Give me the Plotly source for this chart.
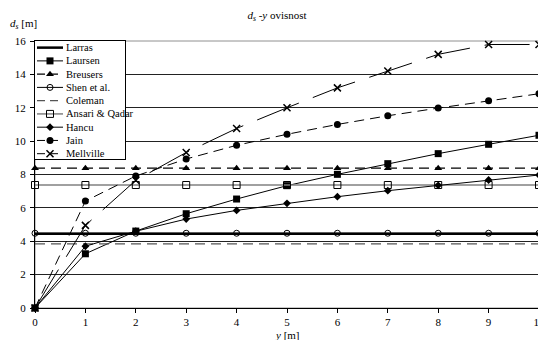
import plotly.graph_objects as go

x_vals = [0, 1, 2, 3, 4, 5, 6, 7, 8, 9, 10]

larras = [4.45] * 11
laursen = [0, 3.25, 4.61, 5.65, 6.53, 7.33, 8.01, 8.65, 9.25, 9.81, 10.35]
breusers = [8.38] * 11
shen = [4.48] * 11
coleman = [3.84] * 11
ansari = [7.37] * 11
hancu = [0, 3.70, 4.60, 5.33, 5.85, 6.27, 6.67, 7.03, 7.35, 7.67, 7.97]
jain = [0, 6.41, 7.91, 8.93, 9.75, 10.41, 11.00, 11.52, 11.98, 12.42, 12.84]
mellville = [0, 4.95, 7.65, 9.32, 10.76, 12.0, 13.19, 14.2, 15.2, 15.79, 15.79]

series_names = ["Larras", "Laursen", "Breusers", "Shen et al.", "Coleman",
                "Ansari & Qadar", "Hancu", "Jain", "Mellville"]
series_values = [larras, laursen, breusers, shen, coleman, ansari, hancu, jain, mellville]

styles = [
    (dict(color="black", width=2.5), None),
    (dict(color="black", width=1), dict(symbol="square", size=7, color="black")),
    (dict(color="black", width=1.2, dash="10px,6px"), dict(symbol="triangle-up", size=7, color="black")),
    (dict(color="black", width=1), dict(symbol="circle-open", size=6, color="black", line=dict(width=1))),
    (dict(color="#555555", width=1.2, dash="10px,6px"), None),
    (dict(color="#808080", width=1.5), dict(symbol="square-open", size=7, color="black", line=dict(width=1))),
    (dict(color="black", width=1), dict(symbol="diamond", size=6, color="black")),
    (dict(color="black", width=1, dash="10px,6px"), dict(symbol="circle", size=7, color="black")),
    (dict(color="black", width=1, dash="45px,15px"), dict(symbol="x-thin-open", size=7, color="black", line=dict(width=1.5))),
]

FONT = "Times New Roman, Liberation Serif, Times, DejaVu Serif, serif"

# page has an 8px body margin; figure is sized to fill the rest of the 546x340 window
W, H = 538, 332
PL, PR, PT, PB = 27, 7, 33, 32
PW, PH = W - PL - PR, H - PT - PB  # 504 x 267

fig = go.Figure()
for name, yv, (line, marker) in zip(series_names, series_values, styles):
    kw = dict(x=x_vals, y=yv, name=name, mode="lines+markers" if marker else "lines",
              line=line, showlegend=False, xaxis="x", yaxis="y", cliponaxis=False)
    if marker:
        kw["marker"] = marker
    fig.add_trace(go.Scatter(**kw))

# Legend box drawn as an inset subplot (row index i on its y axis)
legend_annotations = []
for i, (name, (line, marker)) in enumerate(zip(series_names, styles)):
    sample_line = dict(line)
    if "dash" in sample_line:
        sample_line["dash"] = "8px,5px"
    fig.add_trace(go.Scatter(x=[2, 28], y=[i, i], mode="lines", line=sample_line,
                             showlegend=False, hoverinfo="skip", xaxis="x2", yaxis="y2"))
    if marker:
        fig.add_trace(go.Scatter(x=[15], y=[i], mode="markers", marker=marker,
                                 showlegend=False, hoverinfo="skip", xaxis="x2", yaxis="y2"))
    legend_annotations.append(dict(text=name, xref="x2", yref="y2", x=29, y=i,
                                   xanchor="left", yanchor="middle", showarrow=False,
                                   font=dict(family=FONT, size=10.5, color="black")))

fig.update_layout(
    width=W, height=H,
    margin=dict(l=PL, r=PR, t=PT, b=PB),
    paper_bgcolor="white", plot_bgcolor="white",
    font=dict(family=FONT, size=11, color="black"),
    title=dict(text="<i>d</i><sub><i>s</i></sub> -<i>y</i> ovisnost", x=0.5, xanchor="center",
               y=1 - 7 / H, yanchor="middle", font=dict(family=FONT, size=11)),
    showlegend=False,
    shapes=[dict(type="rect", xref="paper", yref="paper", x0=0, y0=0, x1=1, y1=1,
                 line=dict(color="#909090", width=1), layer="below")],
    annotations=[
        dict(text="<i>d</i><sub><i>s</i></sub> [m]", xref="paper", yref="paper",
             x=-PL / PW, y=1 + 17 / PH, xanchor="left", yanchor="middle",
             showarrow=False, font=dict(family=FONT, size=11)),
        dict(text="<i>y</i> [m]", xref="paper", yref="paper",
             x=0.5, y=-27 / PH, xanchor="center", yanchor="middle",
             showarrow=False, font=dict(family=FONT, size=11)),
    ] + legend_annotations,
    xaxis=dict(range=[0, 10], dtick=1, tick0=0, showgrid=False, zeroline=False,
               showline=True, linecolor="black", linewidth=1, automargin=False,
               ticks="outside", ticklen=4, tickcolor="black", ticklabelstandoff=0,
               tickfont=dict(family=FONT, size=11), domain=[0, 1]),
    yaxis=dict(range=[0, 16], dtick=2, tick0=0, showgrid=True, gridcolor="#222222", gridwidth=1,
               zeroline=False, showline=True, linecolor="black", linewidth=1, automargin=False,
               ticks="outside", ticklen=4, tickcolor="black", ticklabelstandoff=2,
               tickfont=dict(family=FONT, size=11), domain=[0, 1]),
    xaxis2=dict(domain=[0, 90 / PW], range=[0, 90], anchor="y2", showgrid=False,
                zeroline=False, showticklabels=False, ticks="", showline=True, mirror=True,
                linecolor="black", linewidth=1, fixedrange=True, automargin=False),
    yaxis2=dict(domain=[1 - 118 / PH, 1.0], range=[8.4, -0.5], anchor="x2", showgrid=False,
                zeroline=False, showticklabels=False, ticks="", showline=True, mirror=True,
                linecolor="black", linewidth=1, fixedrange=True, automargin=False),
)

fig.write_html("out.html")
